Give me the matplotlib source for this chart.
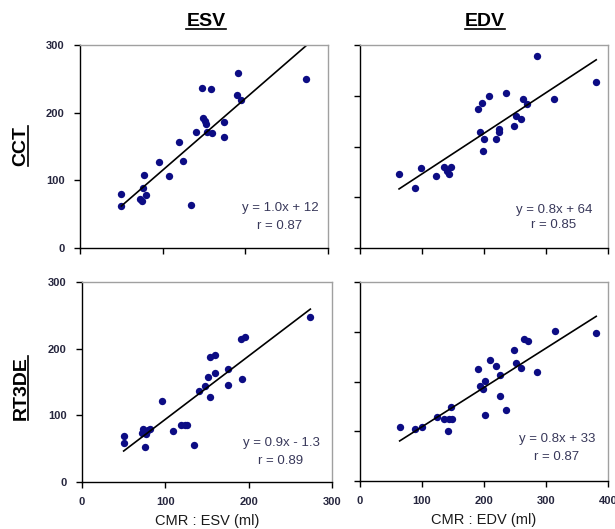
import numpy as np
import matplotlib
matplotlib.use("Agg")
import matplotlib.pyplot as plt
from matplotlib.lines import Line2D

plt.rcParams["font.family"] = ["Liberation Sans", "DejaVu Sans"]

# ---- data ---------------------------------------------------------------
# CCT vs CMR, ESV
cct_esv_cmr = [50, 50, 72, 75, 76, 80, 77, 96, 108, 120, 124, 134, 140, 147,
               149, 151, 152, 154, 160, 158, 174, 174, 191, 190, 195, 273]
cct_esv = [80, 62, 73, 70, 88, 78, 108, 127, 106, 156, 129, 64, 171, 237,
           192, 187, 183, 171, 170, 235, 186, 164, 258, 226, 218, 250]

# CCT vs CMR, EDV
cct_edv_cmr = [63, 89, 99, 122, 136, 141, 146, 144, 191, 197, 208, 193, 200,
               199, 219, 224, 224, 235, 249, 251, 259, 263, 270, 285, 313, 381]
cct_edv = [145, 118, 158, 141, 159, 152, 159, 146, 273, 286, 299, 228, 215,
           192, 214, 228, 234, 305, 241, 260, 254, 294, 283, 378, 294, 328]

# RT3DE vs CMR, ESV
rt_esv_cmr = [50, 50, 75, 73, 72, 77, 79, 82, 96, 109, 119, 124, 126, 134,
              140, 147, 151, 153, 153, 160, 160, 175, 175, 192, 191, 196, 274]
rt_esv = [69, 58, 53, 80, 74, 72, 78, 79, 121, 76, 86, 86, 86, 55, 136,
          144, 158, 128, 188, 191, 163, 170, 145, 154, 215, 217, 247]

# RT3DE vs CMR, EDV
rt_edv_cmr = [64, 89, 100, 124, 136, 143, 148, 147, 142, 191, 193, 198, 201,
              201, 209, 220, 225, 226, 235, 249, 251, 259, 264, 271, 286, 314,
              381]
rt_edv = [109, 105, 109, 129, 125, 125, 125, 149, 101, 225, 191, 184, 201,
          132, 243, 232, 214, 171, 143, 264, 238, 228, 285, 282, 220, 301, 297]

# trendlines as drawn (slope, intercept)
fits = [(1.06, 9.0), (0.80, 66.0), (0.95, -1.0), (0.79, 30.0)]
eq_texts = [("y = 1.0x + 12", "r = 0.87"), ("y = 0.8x + 64", "r = 0.85"),
            ("y = 0.9x - 1.3", "r = 0.89"), ("y = 0.8x + 33", "r = 0.87")]

col_titles = ["ESV", "EDV"]
row_titles = ["CCT", "RT3DE"]
x_labels = ["CMR : ESV (ml)", "CMR : EDV (ml)"]

# ---- layout --------------------------------------------------------------
W, H = 615, 529
fig = plt.figure(figsize=(W / 100, H / 100), dpi=100)
fig.patch.set_facecolor("white")


def px_axes(x0, y0, x1, y1):
    return fig.add_axes([x0 / W, 1 - y1 / H, (x1 - x0) / W, (y1 - y0) / H])


axes = [px_axes(80, 45, 328, 248), px_axes(360, 45, 608, 248),
        px_axes(82, 282, 332, 482), px_axes(360, 282, 608, 481)]

panels = [(cct_esv_cmr, cct_esv, 300), (cct_edv_cmr, cct_edv, 400),
          (rt_esv_cmr, rt_esv, 300), (rt_edv_cmr, rt_edv, 400)]

text_pos = [(0.806, 0.197, 0.108), (0.782, 0.187, 0.113),
            (0.796, 0.195, 0.105), (0.794, 0.211, 0.121)]

TICK_COL = "#26263e"
for i, ax in enumerate(axes):
    xs, ys, lim = panels[i]
    ax.set_xlim(0, lim)
    ax.set_ylim(0, lim)
    ax.set_xticks(np.arange(0, lim + 1, 100))
    ax.set_yticks(np.arange(0, lim + 1, 100))
    ax.scatter(xs, ys, s=28, color="#0c0c84", zorder=3, linewidths=0)
    m, b = fits[i]
    xf = np.array([min(xs), max(xs)])
    ax.plot(xf, m * xf + b, color="black", lw=1.2, zorder=4)
    tx, ty1, ty2 = text_pos[i]
    ax.text(tx, ty1, eq_texts[i][0], transform=ax.transAxes, ha="center",
            va="center", fontsize=9.5, color="#38385a")
    ax.text(tx, ty2, eq_texts[i][1], transform=ax.transAxes, ha="center",
            va="center", fontsize=9.5, color="#38385a")
    for s in ("top", "right"):
        ax.spines[s].set_color("#a0a0a0")
        ax.spines[s].set_linewidth(1.0)
    for s in ("left", "bottom"):
        ax.spines[s].set_color("black")
        ax.spines[s].set_linewidth(1.0)
    ax.tick_params(direction="out", length=4, width=1, color="black",
                   labelsize=8, labelcolor=TICK_COL, pad=7)
    for lbl in ax.get_xticklabels() + ax.get_yticklabels():
        lbl.set_fontweight("bold")
    ax.spines["top"].set_zorder(5)
    if i < 2:
        ax.tick_params(labelbottom=False)
    else:
        ax.set_xlabel(x_labels[i - 2], fontsize=10.5, labelpad=5,
                      color="#1a1a1a")
    if i % 2 == 1:
        ax.tick_params(labelleft=False)

# column and row titles (bold, underlined)
titles = []
for x, t in zip([206, 485], col_titles):
    titles.append(fig.text(x / W, 1 - 22 / H, t, ha="center", va="center",
                           fontsize=14, fontweight="bold"))
for y, t in zip([146, 388], row_titles):
    titles.append(fig.text(21 / W, 1 - y / H, t, ha="center", va="center",
                           rotation=90, fontsize=14, fontweight="bold"))

fig.canvas.draw()
rend = fig.canvas.get_renderer()
for t in titles:
    bb = t.get_window_extent(rend)
    if t.get_rotation() == 90:
        xline = bb.x1 - 2
        fig.add_artist(Line2D([xline / W, xline / W],
                              [bb.y0 / H, bb.y1 / H], color="black", lw=1.2,
                              transform=fig.transFigure))
    else:
        yline = bb.y0 + 2
        fig.add_artist(Line2D([bb.x0 / W, bb.x1 / W],
                              [yline / H, yline / H], color="black", lw=1.2,
                              transform=fig.transFigure))

fig.savefig("out.png", dpi=100)
